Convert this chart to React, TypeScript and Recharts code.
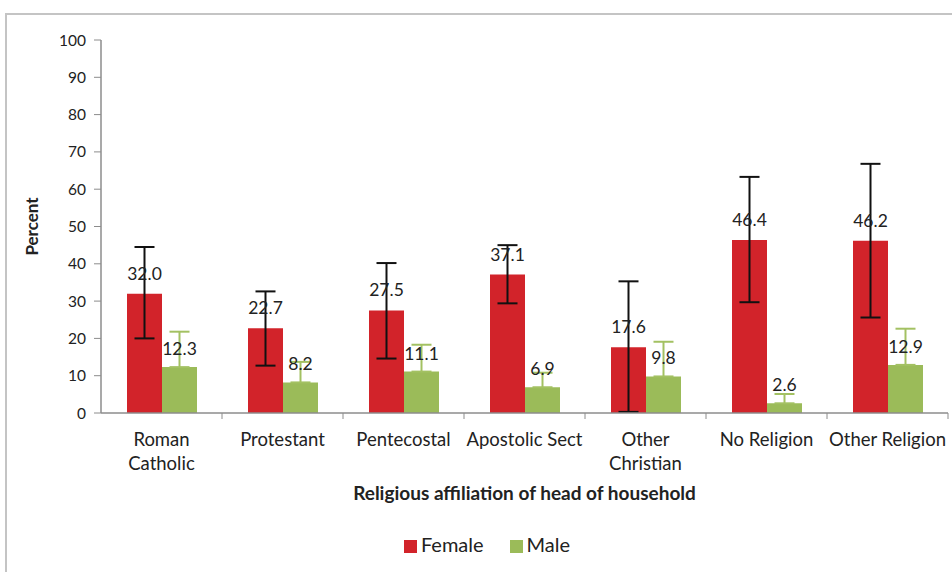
import React from 'react'
import { BarChart, Bar, XAxis, YAxis, ErrorBar, LabelList, Legend, Label } from 'recharts'

const categories = ['Roman Catholic', 'Protestant', 'Pentecostal', 'Apostolic Sect', 'Other Christian', 'No Religion', 'Other Religion']
const tickLines = [['Roman', 'Catholic'], ['Protestant'], ['Pentecostal'], ['Apostolic Sect'], ['Other', 'Christian'], ['No Religion'], ['Other Religion']]
const female = [32.0, 22.7, 27.5, 37.1, 17.6, 46.4, 46.2]
const male = [12.3, 8.2, 11.1, 6.9, 9.8, 2.6, 12.9]
// error bar extents (minus, plus)
const femaleMinus = [12.0, 10.0, 12.9, 7.7, 17.3, 16.7, 20.6]
const femalePlus = [12.5, 9.9, 12.7, 7.9, 17.7, 16.9, 20.6]
const malePlus = [9.5, 5.5, 7.2, 3.9, 9.3, 2.5, 9.7]
const yTicks = [0, 10, 20, 30, 40, 50, 60, 70, 80, 90, 100]

const COLORS = {
  female: '#d2232a',
  male: '#9bbb59',
  maleErr: '#a3c162',
  text: '#222222',
  axis: '#8c8c8c',
}

const FONT = 'Lato, "Open Sans", sans-serif'

const W = 952
const H = 572
const PLOT_LEFT = 101
const PLOT_RIGHT = 948
const BAND = (PLOT_RIGHT - PLOT_LEFT) / categories.length

const data = categories.map((c, i) => ({
  name: c,
  female: female[i],
  male: male[i],
  femaleErr: [femaleMinus[i], femalePlus[i]],
  maleErr: [0, malePlus[i]],
}))

const CategoryTick = ({ x, y, index }: any) => {
  const lines = tickLines[index] || []
  return (
    <g>
      <line x1={x + BAND / 2} x2={x + BAND / 2} y1={y - 8} y2={y - 2} stroke={COLORS.axis} />
      <text x={x} y={y + 25} textAnchor="middle" fill={COLORS.text} fontSize={18.5} fontFamily={FONT}>
        {lines.map((l, k) => (
          <tspan key={k} x={x} dy={k === 0 ? 0 : 24}>{l}</tspan>
        ))}
      </text>
    </g>
  )
}

export default function App() {
  return (
    <div style={{ position: 'absolute', left: 0, top: 0, width: W, height: H, background: '#fff', overflow: 'hidden' }}>
      <div style={{ position: 'absolute', left: 5, top: 13, width: 1000, height: 700, border: '2px solid #c4c4c4' }} />
      <div style={{ position: 'absolute', left: 0, top: 0 }}>
        <BarChart
          width={W}
          height={H}
          data={data}
          margin={{ top: 40, right: W - PLOT_RIGHT, left: 0, bottom: 40 }}
          barGap={0}
          barSize={35}
        >
          <XAxis
            dataKey="name"
            interval={0}
            height={95}
            tick={<CategoryTick />}
            tickLine={false}
            axisLine={{ stroke: COLORS.axis, strokeWidth: 1.5 }}
          >
            <Label
              value="Religious affiliation of head of household"
              position="insideBottom"
              offset={8}
              style={{ fontFamily: FONT, fontSize: 19, fontWeight: 700, fill: COLORS.text }}
            />
          </XAxis>
          <YAxis
            width={PLOT_LEFT}
            domain={[0, 100]}
            ticks={yTicks}
            interval={0}
            tick={{ fill: COLORS.text, fontSize: 15.5, fontFamily: FONT }}
            tickLine={{ stroke: COLORS.axis }}
            tickSize={7}
            tickMargin={8}
            axisLine={{ stroke: COLORS.axis, strokeWidth: 1.5 }}
          >
            <Label
              value="Percent"
              angle={-90}
              position="insideLeft"
              offset={32}
              style={{ fontFamily: FONT, fontSize: 17, fontWeight: 700, fill: COLORS.text, textAnchor: 'middle' }}
            />
          </YAxis>
          <Legend
            verticalAlign="bottom"
            align="center"
            iconType="square"
            iconSize={13}
            wrapperStyle={{ bottom: 16, left: 16, width: W, fontFamily: FONT, fontSize: 20 }}
            formatter={(v: any, _e: any, i: number) => (
              <span style={{ color: COLORS.text, marginRight: i === 0 ? 16 : 0 }}>{v}</span>
            )}
          />
          <Bar dataKey="female" name="Female" fill={COLORS.female} isAnimationActive={false}>
            <ErrorBar dataKey="femaleErr" direction="y" width={10} strokeWidth={2} stroke="#111" />
            <LabelList
              dataKey="female"
              position="top"
              offset={14}
              formatter={(v: any) => Number(v).toFixed(1)}
              style={{ fill: COLORS.text, fontSize: 17.5, fontFamily: FONT }}
            />
          </Bar>
          <Bar dataKey="male" name="Male" fill={COLORS.male} isAnimationActive={false}>
            <ErrorBar dataKey="maleErr" direction="y" width={10} strokeWidth={2} stroke={COLORS.maleErr} />
            <LabelList
              dataKey="male"
              position="top"
              offset={12}
              formatter={(v: any) => Number(v).toFixed(1)}
              style={{ fill: COLORS.text, fontSize: 17.5, fontFamily: FONT }}
            />
          </Bar>
        </BarChart>
      </div>
    </div>
  )
}
